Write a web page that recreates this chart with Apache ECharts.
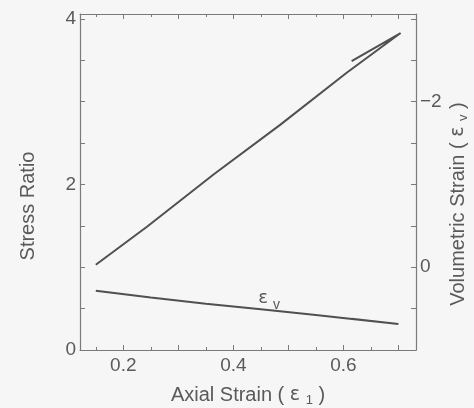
<!DOCTYPE html>
<html>
<head>
<meta charset="utf-8">
<script src="https://cdn.jsdelivr.net/npm/echarts@6/dist/echarts.min.js"></script>
<style>
  html, body { margin: 0; padding: 0; background: #f7f6f6; }
  #chart { width: 474px; height: 408px; }
</style>
</head>
<body>
<div id="chart"></div>
<script>
// Axial strain (ε1) for the stress-ratio path: loading to the peak, then unloading
const ratioStrain = [0.150, 0.243, 0.364, 0.485, 0.606, 0.704, 0.615];
const stressRatio = [1.03, 1.49, 2.12, 2.72, 3.35, 3.83, 3.49];

// Axial strain (ε1) for the volumetric strain path
const volStrainX = [0.150, 0.250, 0.350, 0.450, 0.550, 0.620, 0.700, 0.615];
const volStrain  = [0.283, 0.367, 0.440, 0.508, 0.576, 0.628, 0.685, 0.622];

// Tick labels that are printed on each axis
const xLabels = [0.2, 0.4, 0.6];
const leftLabels = [0, 2, 4];
const rightLabels = [-2, 0];

const pairs = (xs, ys) => xs.map((x, i) => [x, ys[i]]);
const near = (list, v) => list.some(t => Math.abs(t - v) < 1e-6);

const ink = '#505050';
const textInk = '#5a5a5a';
const axisInk = '#7a7a7a';
const font = 'Liberation Sans, Arial, sans-serif';

const chart = echarts.init(document.getElementById('chart'), null, { renderer: 'canvas' });

const xCommon = {
  type: 'value',
  min: 0.1213,
  max: 0.732,
  splitNumber: 6,
  splitLine: { show: false },
  axisLine: { show: true, onZero: false, lineStyle: { color: axisInk, width: 1.2 } },
  axisTick: { show: true, inside: true, length: 5, lineStyle: { color: axisInk } },
  minorTick: { show: true, splitNumber: 2, length: 3, lineStyle: { color: axisInk } }
};

const subRich = {
  e: { color: textInk, fontSize: 19, fontFamily: 'DejaVu Sans' },
  s: { color: textInk, fontSize: 13, fontFamily: font, verticalAlign: 'bottom', padding: [11, 0, 0, 0] }
};

const option = {
  backgroundColor: '#f7f6f6',
  animation: false,
  grid: { left: 80, right: 58, top: 14, bottom: 58, containLabel: false, outerBoundsMode: 'none' },
  xAxis: [
    Object.assign({}, xCommon, {
      position: 'bottom',
      name: 'Axial Strain ( {e|ε} {s|1} )',
      nameLocation: 'middle',
      nameGap: 33,
      nameMoveOverlap: false,
      nameTextStyle: { color: textInk, fontFamily: font, fontSize: 20, rich: subRich },
      axisLabel: {
        color: textInk, fontFamily: font, fontSize: 19, margin: 6,
        formatter: v => near(xLabels, v) ? String(v) : ''
      }
    }),
    Object.assign({}, xCommon, {
      position: 'top',
      axisLabel: { show: false }
    })
  ],
  yAxis: [
    {
      type: 'value',
      position: 'left',
      min: 0,
      max: 4.06,
      interval: 0.5,
      name: 'Stress Ratio',
      nameLocation: 'middle',
      nameGap: 42,
      nameMoveOverlap: false,
      nameTextStyle: { color: textInk, fontFamily: font, fontSize: 20, padding: [0, 48, 0, 0] },
      splitLine: { show: false },
      axisLine: { show: true, onZero: false, lineStyle: { color: axisInk, width: 1.2 } },
      axisTick: { show: true, inside: true, length: 5, lineStyle: { color: axisInk } },
      axisLabel: {
        color: textInk, fontFamily: font, fontSize: 19, margin: 4,
        showMaxLabel: false,
        formatter: v => near(leftLabels, v) ? String(v) : ''
      }
    },
    {
      type: 'value',
      position: 'right',
      inverse: true,
      min: -3.06,
      max: 1,
      splitNumber: 8,
      name: 'Volumetric Strain ( {e|ε} {s|v} )',
      nameLocation: 'middle',
      nameGap: 30,
      nameRotate: 90,
      nameMoveOverlap: false,
      nameTextStyle: { color: textInk, fontFamily: font, fontSize: 20, padding: [0, 44, 0, 0], rich: subRich },
      splitLine: { show: false },
      axisLine: { show: true, onZero: false, lineStyle: { color: axisInk, width: 1.2 } },
      axisTick: { show: true, inside: true, length: 5, lineStyle: { color: axisInk } },
      axisLabel: {
        color: textInk, fontFamily: font, fontSize: 19, margin: 4,
        formatter: v => near(rightLabels, v) ? String(v).replace('-', '\u2212') : ''
      }
    }
  ],
  series: [
    {
      name: 'Stress Ratio',
      type: 'line',
      xAxisIndex: 0,
      yAxisIndex: 0,
      data: pairs(ratioStrain, stressRatio),
      showSymbol: false,
      symbol: 'none',
      lineStyle: { color: ink, width: 2 }
    },
    {
      name: 'Volumetric Strain',
      type: 'line',
      xAxisIndex: 0,
      yAxisIndex: 1,
      data: pairs(volStrainX, volStrain),
      showSymbol: false,
      symbol: 'none',
      lineStyle: { color: ink, width: 2 },
      markPoint: {
        symbol: 'circle',
        symbolSize: 0,
        data: [{ coord: [0.465, 0.38] }],
        label: {
          show: true,
          position: 'inside',
          formatter: '{e|ε}{s|v}',
          rich: {
            e: { color: textInk, fontSize: 18, fontFamily: 'DejaVu Sans' },
            s: { color: textInk, fontSize: 14, fontFamily: font, verticalAlign: 'bottom', padding: [12, 0, 0, 5] }
          }
        }
      }
    }
  ]
};

chart.setOption(option);
</script>
</body>
</html>
